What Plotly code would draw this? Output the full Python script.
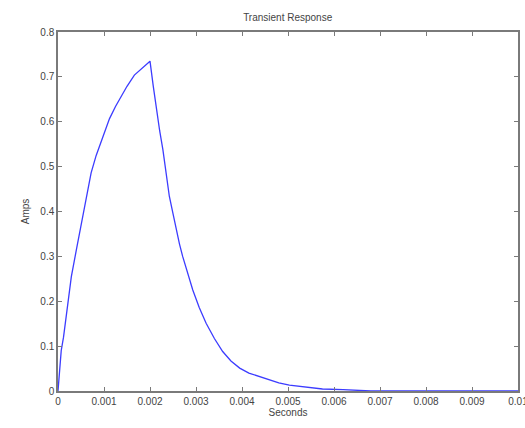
import plotly.graph_objects as go

seconds = [0, 0.00003, 0.00007, 0.00012, 0.0002, 0.00029, 0.0004, 0.00054, 0.00065,
           0.00072, 0.00083, 0.00094, 0.00103, 0.00112, 0.00125, 0.00137, 0.0015,
           0.00166, 0.00183, 0.002,
           0.00207, 0.00214, 0.00221, 0.00228, 0.00235, 0.00242, 0.0025, 0.00257,
           0.00264, 0.00271, 0.00282, 0.00293, 0.00307, 0.00322, 0.0034, 0.00358,
           0.00376, 0.00395, 0.00415, 0.00438, 0.0046, 0.0048, 0.00503, 0.00532,
           0.0055, 0.00575, 0.0062, 0.00655, 0.0068, 0.01]
amps = [0, 0.05, 0.09, 0.12, 0.19, 0.255, 0.315, 0.389, 0.45,
        0.486, 0.525, 0.558, 0.585, 0.607, 0.634, 0.656, 0.679,
        0.704, 0.72, 0.735,
        0.68, 0.627, 0.58, 0.538, 0.485, 0.434, 0.395, 0.359,
        0.328, 0.3, 0.26, 0.225, 0.186, 0.151, 0.117, 0.088,
        0.067, 0.051, 0.04, 0.032, 0.025, 0.018, 0.013, 0.0096,
        0.007, 0.0045, 0.003, 0.002, 0, 0]

x_ticks = [0, 0.001, 0.002, 0.003, 0.004, 0.005, 0.006, 0.007, 0.008, 0.009, 0.01]
x_labels = ["0", "0.001", "0.002", "0.003", "0.004", "0.005", "0.006", "0.007", "0.008", "0.009", "0.01"]
y_ticks = [0, 0.1, 0.2, 0.3, 0.4, 0.5, 0.6, 0.7, 0.8]
y_labels = ["0", "0.1", "0.2", "0.3", "0.4", "0.5", "0.6", "0.7", "0.8"]

font = "Liberation Sans, Arial, sans-serif"
axis_col = "#7a7a7a"
text_col = "#444444"

fig = go.Figure()
fig.add_trace(go.Scatter(x=seconds, y=amps, mode="lines",
                         line=dict(color="#3c3cff", width=1.3),
                         showlegend=False, hoverinfo="skip"))

common = dict(showgrid=False, zeroline=False, showline=True, linecolor=axis_col,
              linewidth=1.5, mirror="ticks", ticks="inside", ticklen=4,
              tickwidth=1, tickcolor=axis_col, automargin=False,
              ticklabeloverflow="allow",
              tickfont=dict(family=font, size=10, color=text_col))

fig.update_xaxes(range=[0, 0.01], tickvals=x_ticks, ticktext=x_labels,
                 title=dict(text="Seconds", font=dict(family=font, size=10, color=text_col), standoff=1),
                 **common)
fig.update_yaxes(range=[0, 0.8], tickvals=y_ticks, ticktext=y_labels,
                 title=dict(text="Amps", font=dict(family=font, size=10, color=text_col), standoff=9),
                 **common)

fig.update_layout(
    width=525, height=428,
    margin=dict(l=58, r=7, t=32, b=37, autoexpand=False),
    paper_bgcolor="white", plot_bgcolor="white",
    title=dict(text="Transient Response", x=0.548, xanchor="center",
               y=1 - 17 / 428, yanchor="middle",
               font=dict(family=font, size=10, color=text_col)),
)

fig.write_html("out.html", config={"displayModeBar": False},
               post_script="document.body.style.margin='0';document.body.style.overflow='hidden';")
